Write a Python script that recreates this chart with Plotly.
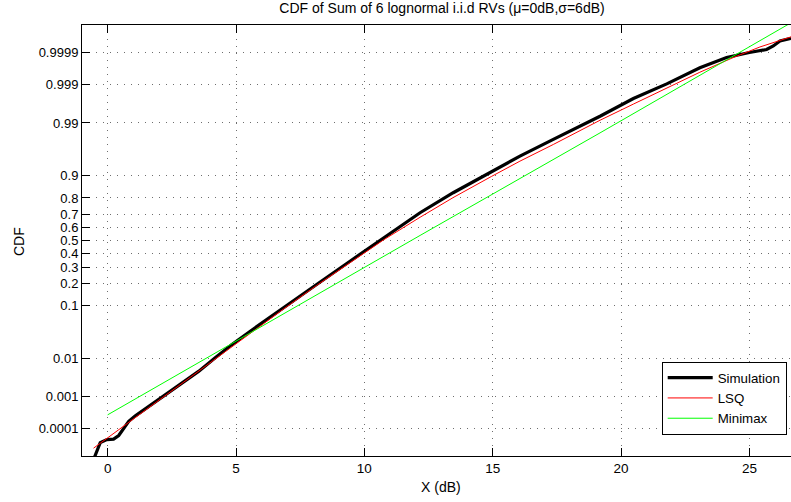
import plotly.graph_objects as go
from statistics import NormalDist

# ---- data ----
sim_x = [-0.60, -0.29, -0.03, 0.23, 0.43, 0.62, 0.82, 1.08, 1.60, 2.24, 2.90, 3.54,
         4.19, 4.84, 5.65, 6.84, 8.14, 9.44, 10.00, 10.74, 11.78, 12.17, 13.46, 14.96,
         16.06, 17.36, 18.14, 19.18, 20.48, 21.78, 23.07, 24.11, 25.00, 25.67, 25.93,
         26.19, 26.62]
sim_cdf = [0.0000054, 0.0000317, 0.0000407, 0.0000425, 0.0000567, 0.000104, 0.000172,
           0.000260, 0.000519, 0.00114, 0.00240, 0.0048, 0.0102, 0.0197, 0.0392, 0.0918,
           0.1922, 0.3409, 0.4168, 0.5211, 0.6613, 0.7088, 0.8277, 0.9147, 0.9525,
           0.97725, 0.98574, 0.99305, 0.99752, 0.999032, 0.999687, 0.999853, 0.9999004,
           0.9999216, 0.9999409, 0.9999609, 0.9999683]

lsq_x = [-0.55, 0.04, 0.69, 1.60, 2.90, 4.20, 5.55, 6.84, 8.14, 9.44, 10.74, 12.17,
         13.46, 14.96, 16.06, 17.36, 18.40, 19.18, 20.48, 21.78, 23.07, 24.37, 25.41, 26.62]
lsq_cdf = [0.0000198, 0.0000501, 0.000131, 0.000466, 0.00233, 0.00964, 0.0336, 0.0869,
           0.1867, 0.3300, 0.5040, 0.6772, 0.8023, 0.8980, 0.9418, 0.9713, 0.9850,
           0.99134, 0.99653, 0.998736, 0.999566, 0.999853, 0.999936, 0.9999721]

mm_x = [0.0, 5.55, 12.17, 19.18, 27.0]
mm_cdf = [0.000280, 0.0336, 0.5398, 0.98341, 0.99999507]

y_ticks = [0.0001, 0.001, 0.01, 0.1, 0.2, 0.3, 0.4, 0.5, 0.6, 0.7, 0.8, 0.9,
           0.99, 0.999, 0.9999]
y_ticklabels = ["0.0001", "0.001", "0.01", "0.1", "0.2", "0.3", "0.4", "0.5", "0.6",
                "0.7", "0.8", "0.9", "0.99", "0.999", "0.9999"]
x_ticks = [0, 5, 10, 15, 20, 25]

y_limits = [0.00001, 0.99999]
x_limits = [-1.0, 26.62]

# ---- normal-probability scale ----
nd = NormalDist()


def probit(vals):
    return [nd.inv_cdf(v) for v in vals]


FONT = "Liberation Sans, Arial, Helvetica, sans-serif"
GRID = dict(showgrid=True, gridcolor="#6e6e6e", griddash="1px,6px", gridwidth=1)

fig = go.Figure()
fig.add_trace(go.Scatter(x=sim_x, y=probit(sim_cdf), mode="lines", name="Simulation",
                         line=dict(color="black", width=3.2)))
fig.add_trace(go.Scatter(x=lsq_x, y=probit(lsq_cdf), mode="lines", name="LSQ",
                         line=dict(color="#ff0000", width=1)))
fig.add_trace(go.Scatter(x=mm_x, y=probit(mm_cdf), mode="lines", name="Minimax",
                         line=dict(color="#00ff00", width=1)))

fig.update_layout(
    width=791, height=502,
    margin=dict(l=82, r=0, t=25, b=46),
    paper_bgcolor="white", plot_bgcolor="white",
    font=dict(family=FONT, size=13, color="black"),
    title=dict(text="CDF of Sum of 6 lognormal i.i.d RVs (\u03bc=0dB,\u03c3=6dB)",
               x=442 / 791, xref="container", xanchor="center",
               y=1 - 8.5 / 502, yref="container", yanchor="middle",
               font=dict(family=FONT, size=14, color="black")),
    showlegend=True,
    legend=dict(x=(661.7 - 82) / 709, y=(456 - 361.5) / 431, xanchor="left", yanchor="top",
                bgcolor="white", bordercolor="black", borderwidth=1,
                font=dict(family=FONT, size=13.3, color="black"), itemwidth=45,
                tracegroupgap=0),
    xaxis=dict(range=x_limits, tickvals=x_ticks, ticks="inside", ticklen=8,
               tickcolor="black", showline=True, linecolor="black", linewidth=1,
               mirror="ticks", zeroline=False, tickfont=dict(size=13.5), **GRID),
    yaxis=dict(range=probit(y_limits), tickvals=probit(y_ticks), ticktext=y_ticklabels,
               ticks="inside", ticklen=8, tickcolor="black", showline=True,
               linecolor="black", linewidth=1, mirror=False, zeroline=False,
               tickfont=dict(size=13), **GRID),
    annotations=[
        dict(text="X (dB)", xref="paper", yref="paper", x=(441 - 82) / 709,
             y=-(487.5 - 456) / 431, xanchor="center", yanchor="middle",
             showarrow=False, font=dict(family=FONT, size=14, color="black")),
        dict(text="CDF", xref="paper", yref="paper", x=-(82 - 19) / 709,
             y=(456 - 242) / 431, xanchor="center", yanchor="middle", textangle=-90,
             showarrow=False, font=dict(family=FONT, size=14, color="black")),
    ],
)

fig.write_html("out.html")
